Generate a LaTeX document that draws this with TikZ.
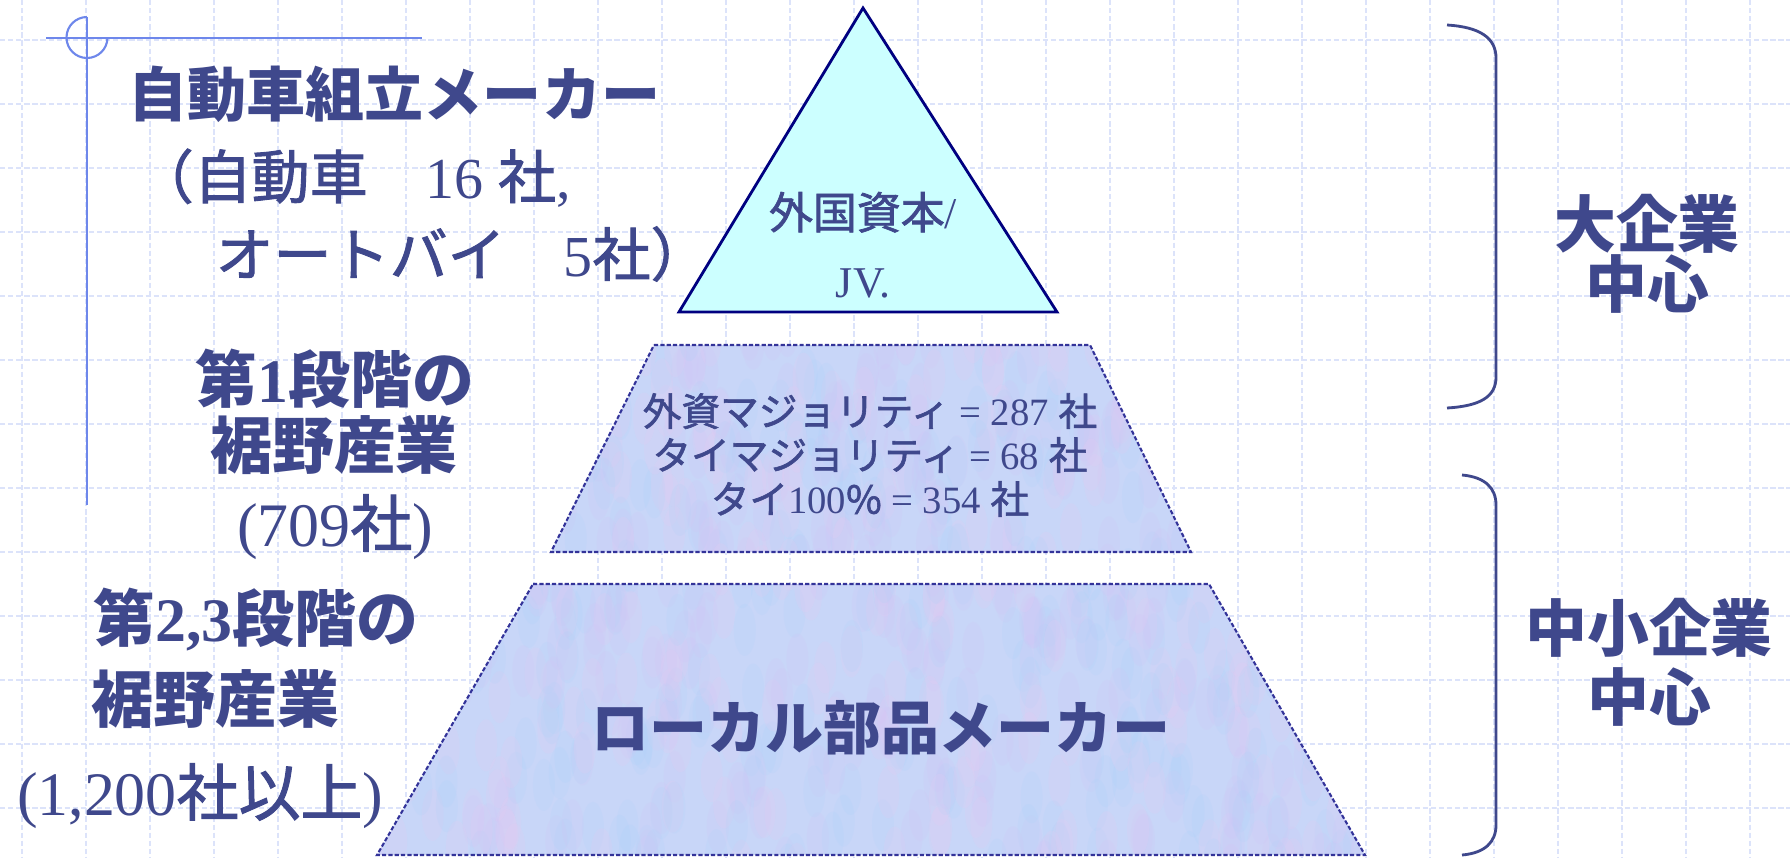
\documentclass[tikz,border=0pt]{standalone}
\usepackage{fontspec}
\setmainfont{Liberation Serif}
\newfontfamily\jp{Noto Sans CJK JP}
\newfontfamily\jpthick[FakeBold=1.6]{Noto Sans CJK JP}
\newcommand{\jtxfam}{\jp}
\newcommand{\jtx}[1]{{\jtxfam #1}}
\definecolor{navytext}{RGB}{63,72,140}
\definecolor{gridblue}{RGB}{220,227,250}
\definecolor{rulerblue}{RGB}{110,135,235}
\definecolor{paleaqua}{RGB}{204,255,255}
\definecolor{deepnavy}{RGB}{0,0,128}
\definecolor{mist}{RGB}{200,214,248}
\definecolor{tintA}{RGB}{170,210,250}
\definecolor{tintB}{RGB}{210,194,246}
\definecolor{tintC}{RGB}{236,200,240}
\tikzset{
  gridline/.style={draw=gridblue,line width=0.5pt,dash pattern=on 1.5pt off 0.8pt},
  ruler/.style={draw=rulerblue,line width=0.6pt},
  apex/.style={fill=paleaqua,draw=deepnavy,line width=0.8pt},
  tier/.style={draw=deepnavy!80,line width=0.6pt,dash pattern=on 1.2pt off 0.6pt},
  bracket/.style={draw=navytext,line width=0.8pt},
  head/.style={text=navytext,inner sep=0pt,align=center,
    font=\bfseries\fontsize{#1}{#1}\selectfont},
  head/.default=17.6,
  note/.style={text=navytext,inner sep=0pt,align=center,
    font=\let\jtxfam\jpthick\fontsize{#1}{#1}\selectfont},
  note/.default=16.5,
}
\begin{document}
\begin{tikzpicture}
\useasboundingbox (0,0) rectangle (17.9,-8.57);
\fill[white] (0,0) rectangle (17.9,-8.57);
% grid paper
\foreach \i in {0,...,27} \draw[gridline] ({0.22+0.64*\i},0) -- ++(0,-8.57);
\foreach \j in {0,...,12} \draw[gridline] (0,{-0.40-0.64*\j}) -- ++(17.9,0);
% title mark
\draw[ruler] (0.46,-0.38) -- (4.22,-0.38);
\draw[ruler] (0.87,-0.17) -- (0.87,-5.05);
\draw[ruler] (0.87,-0.17) arc[start angle=90,end angle=360,radius=0.205];
% pyramid
\coordinate (m1) at (6.54,-3.45); \coordinate (m2) at (10.90,-3.45);
\coordinate (m3) at (11.91,-5.52); \coordinate (m4) at (5.51,-5.52);
\coordinate (b1) at (5.33,-5.84); \coordinate (b2) at (12.09,-5.84);
\coordinate (b3) at (13.65,-8.55); \coordinate (b4) at (3.77,-8.55);
\draw[apex] (8.63,-0.08) -- (10.57,-3.12) -- (6.79,-3.12) -- cycle;
\fill[mist] (m1) -- (m2) -- (m3) -- (m4) -- cycle (b1) -- (b2) -- (b3) -- (b4) -- cycle;
\begin{scope}
  \clip (m1) -- (m2) -- (m3) -- (m4) -- cycle (b1) -- (b2) -- (b3) -- (b4) -- cycle;
  \pgfmathsetseed{11}
  \foreach \k in {1,...,900} {
    \pgfmathsetmacro{\bx}{3.6+10.2*rnd}
    \pgfmathsetmacro{\by}{-3.3-5.4*rnd}
    \pgfmathtruncatemacro{\bc}{mod(\k,3)}
    \ifcase\bc \def\tint{tintA}\or \def\tint{tintB}\else \def\tint{tintC}\fi
    \fill[\tint,opacity=0.16] (\bx,\by) ellipse (0.11 and 0.26);
  }
\end{scope}
\draw[tier] (m1) -- (m2) -- (m3) -- (m4) -- cycle;
\draw[tier] (b1) -- (b2) -- (b3) -- (b4) -- cycle;
\node[note=12.5] (apextxt) at (8.63,-2.45) {\jtx{外国資本}/\\[7pt]JV.};
\node[note=11] (tier1txt) at (8.70,-4.55) {\jtx{外資マジョリティ} = 287 \jtx{社}\\[1.5pt]
  \jtx{タイマジョリティ} = 68 \jtx{社}\\[1.5pt]
  \jtx{タイ}100\jtx{\%} = 354 \jtx{社}};
\node[head=16.5] (tier2txt) at (8.81,-7.28) {\jtx{ローカル部品メーカー}};
% left labels
\node[head=16.8,anchor=west] (maker) at (1.28,-0.94) {\jtx{自動車組立メーカー}};
\node[note,anchor=west] (makerA) at (1.35,-1.78) {\jtx{（自動車　}16 \jtx{社},};
\node[note,anchor=west] (makerB) at (2.15,-2.54) {\jtx{オートバイ　}5\jtx{社）}};
\node[head] (firstA) at (3.35,-3.79) {\jtx{第}1\jtx{段階の}};
\node[head] (firstB) at (3.34,-4.45) {\jtx{裾野産業}};
\node[note=17.6] (firstC) at (3.35,-5.27) {(709\jtx{社})};
\node[head,anchor=west] (secondA) at (0.93,-6.20) {\jtx{第}2,3\jtx{段階の}};
\node[head,anchor=west] (secondB) at (0.91,-6.99) {\jtx{裾野産業}};
\node[note=17.6] (secondC) at (2.00,-7.96) {(1,200\jtx{社以上})};
% right brackets
\draw[bracket] (14.47,-0.25) .. controls (14.80,-0.27) and (14.96,-0.38) .. (14.96,-0.58)
  -- (14.96,-3.77) .. controls (14.96,-3.97) and (14.80,-4.06) .. (14.47,-4.08);
\draw[bracket] (14.62,-4.75) .. controls (14.85,-4.77) and (14.96,-4.88) .. (14.96,-5.05)
  -- (14.96,-8.25) .. controls (14.96,-8.42) and (14.85,-8.53) .. (14.62,-8.55);
\node[head] (bigA) at (16.47,-2.24) {\jtx{大企業}};
\node[head] (bigB) at (16.47,-2.84) {\jtx{中心}};
\node[head] (smallA) at (16.49,-6.28) {\jtx{中小企業}};
\node[head] (smallB) at (16.49,-6.97) {\jtx{中心}};
\end{tikzpicture}
\end{document}
